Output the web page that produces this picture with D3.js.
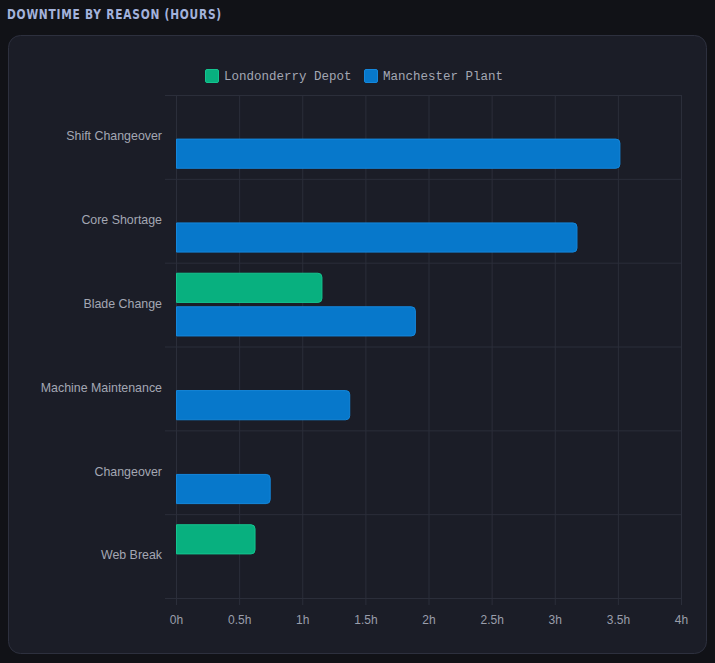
<!DOCTYPE html>
<html>
<head>
<meta charset="utf-8">
<script src="https://cdn.jsdelivr.net/npm/d3@7"></script>
<style>
  html, body { margin: 0; padding: 0; background: #111217; }
  svg { display: block; }
</style>
</head>
<body>
<svg id="chart"></svg>
<script>
const categories = ['Shift Changeover', 'Core Shortage', 'Blade Change', 'Machine Maintenance', 'Changeover', 'Web Break'];
const seriesNames = ['Londonderry Depot', 'Manchester Plant'];
const londonderry = [null, null, 1.16, null, null, 0.63];
const manchester = [3.52, 3.18, 1.90, 1.38, 0.75, null];
const xTicks = [0, 0.5, 1, 1.5, 2, 2.5, 3, 3.5, 4];
const colors = {'Londonderry Depot': '#08b07f', 'Manchester Plant': '#0778cb'};
const borders = {'Londonderry Depot': '#14c48f', 'Manchester Plant': '#1487dc'};

const W = 715, H = 663;
const margin = {top: 95, right: 34, bottom: 65, left: 176};
const width = W - margin.left - margin.right;
const height = H - margin.top - margin.bottom;

const rows = [];
categories.forEach((c, i) => {
    if (londonderry[i] != null) rows.push({cat: c, series: seriesNames[0], value: londonderry[i]});
    if (manchester[i] != null) rows.push({cat: c, series: seriesNames[1], value: manchester[i]});
});

const svg = d3.select('#chart').attr('width', W).attr('height', H);

// title, squeezed to look like a condensed display face
svg.append('text')
    .attr('x', 7).attr('y', 19)
    .attr('fill', '#a3b2dc')
    .attr('textLength', 215)
    .attr('lengthAdjust', 'spacingAndGlyphs')
    .style('font-family', '"DejaVu Sans", sans-serif')
    .style('font-weight', 'bold')
    .style('font-size', '14px')
    .style('letter-spacing', '1px')
    .text('DOWNTIME BY REASON (HOURS)');

svg.append('rect')
    .attr('x', 8.5).attr('y', 35.5)
    .attr('width', 698).attr('height', 618)
    .attr('rx', 12)
    .attr('fill', '#1b1d27')
    .attr('stroke', '#2d303e');

const xScale = d3.scaleLinear().domain([0, 4]).range([0, width]);
const yScale = d3.scaleBand().domain(categories).range([0, height]).padding(0);
const inner = d3.scaleBand().domain(seriesNames)
    .range([yScale.bandwidth() * 0.1, yScale.bandwidth() * 0.9]);
const barH = inner.bandwidth() * 0.9;

const chart = svg.append('g').attr('transform', `translate(${margin.left},${margin.top})`);

// grid
const xAxis = d3.axisBottom(xScale)
    .tickValues(xTicks)
    .tickSize(-height)
    .tickFormat(d => d + 'h');
const xAxisG = chart.append('g')
    .attr('transform', `translate(0,${height})`)
    .call(xAxis)
    .call(g => g.select('.domain').remove());
xAxisG.selectAll('.tick line')
    .attr('stroke', '#2b2e3a')
    .attr('y1', 7);
xAxisG.selectAll('.tick text')
    .attr('y', 17)
    .attr('fill', '#9a9eab')
    .style('font-family', '"Liberation Sans", Arial, sans-serif')
    .style('font-size', '12px');

const gridY = d3.range(categories.length + 1).map(i => i * yScale.step());
chart.selectAll('.hgrid')
    .data(gridY)
    .join('line')
    .attr('class', 'hgrid')
    .attr('x1', -11).attr('x2', width)
    .attr('y1', d => d + 0.5).attr('y2', d => d + 0.5)
    .attr('stroke', '#2b2e3a');

chart.selectAll('.ylabel')
    .data(categories)
    .join('text')
    .attr('class', 'ylabel')
    .attr('x', -14)
    .attr('y', d => yScale(d) + yScale.bandwidth() / 2 - 1)
    .attr('dy', '0.35em')
    .attr('text-anchor', 'end')
    .attr('fill', '#a3a7b3')
    .style('font-family', '"Liberation Sans", Arial, sans-serif')
    .style('font-size', '12.4px')
    .text(d => d);

chart.selectAll('.bar')
    .data(rows)
    .join('path')
    .attr('class', 'bar')
    .attr('d', d => {
        const x0 = xScale(0) + 0.5, x1 = xScale(d.value) - 0.5;
        const y0 = yScale(d.cat) + inner(d.series) + (inner.bandwidth() - barH) / 2 + 0.5;
        const y1 = y0 + barH - 1;
        const r = 4;
        return `M${x0},${y0}H${x1 - r}Q${x1},${y0} ${x1},${y0 + r}V${y1 - r}Q${x1},${y1} ${x1 - r},${y1}H${x0}Z`;
    })
    .attr('fill', d => colors[d.series])
    .attr('stroke', d => borders[d.series])
    .attr('stroke-width', 1);

// legend
const legend = svg.append('g').attr('transform', 'translate(205,69)');
const legendX = [0, 159];
const items = legend.selectAll('g')
    .data(seriesNames)
    .join('g')
    .attr('transform', (d, i) => `translate(${legendX[i]},0)`);
items.append('rect')
    .attr('x', 0.5).attr('y', 0.5)
    .attr('width', 13).attr('height', 13)
    .attr('rx', 1.5)
    .attr('fill', d => colors[d])
    .attr('stroke', d => borders[d]);
items.append('text')
    .attr('x', 19).attr('y', 7)
    .attr('dy', '0.35em')
    .attr('fill', '#a3a7b3')
    .style('font-family', '"Liberation Mono", "DejaVu Sans Mono", monospace')
    .style('font-size', '12.5px')
    .text(d => d);
</script>
</body>
</html>
